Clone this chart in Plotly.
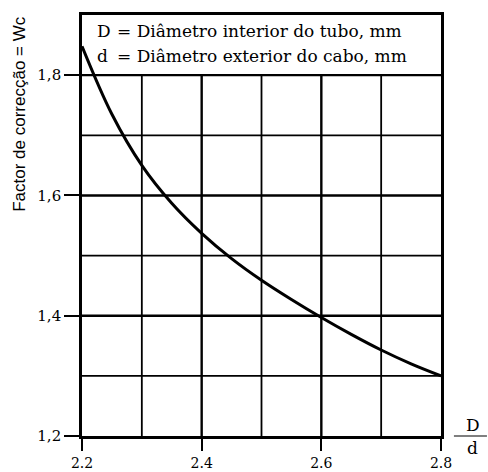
import plotly.graph_objects as go

# Data
ratio_Dd = [2.20, 2.25, 2.30, 2.35, 2.40, 2.45, 2.50, 2.55, 2.60, 2.65, 2.70, 2.75, 2.80]
factor_wc = [1.848, 1.735, 1.650, 1.587, 1.537, 1.495, 1.459, 1.427, 1.397, 1.369, 1.343, 1.320, 1.300]

x_major = [2.2, 2.4, 2.6, 2.8]
x_minor = [2.3, 2.5, 2.7]
y_major = [1.2, 1.4, 1.6, 1.8]
y_minor = [1.3, 1.5, 1.7]
y_ticktext = ["1,2", "1,4", "1,6", "1,8"]
x_ticktext = ["2.2", "2.4", "2.6", "2.8"]
legend_lines = ["= Diâmetro interior do tubo, mm", "= Diâmetro exterior do cabo, mm"]
legend_syms = ["D", "d"]

X_RANGE = [2.2, 2.8]
Y_RANGE = [1.2, 1.9]
GRID_TOP = 1.8

fig = go.Figure()
fig.add_trace(go.Scatter(x=ratio_Dd, y=factor_wc, mode="lines",
                         line=dict(color="black", width=3, shape="spline", smoothing=1.0),
                         hoverinfo="skip", showlegend=False))

shapes = []
for v in x_major[1:-1] + x_minor:
    w = 2.4 if v in x_major else 1.8
    shapes.append(dict(type="line", xref="x", yref="y", x0=v, x1=v, y0=Y_RANGE[0], y1=GRID_TOP,
                       line=dict(color="black", width=w), layer="below"))
for v in y_major[1:] + y_minor:
    w = 2.4 if v in y_major else 1.8
    shapes.append(dict(type="line", xref="x", yref="y", x0=X_RANGE[0], x1=X_RANGE[1], y0=v, y1=v,
                       line=dict(color="black", width=w), layer="below"))
# fraction bar for D/d
shapes.append(dict(type="line", xref="paper", yref="paper", x0=1.036, x1=1.128, y0=0, y1=0,
                   line=dict(color="black", width=1.2)))

serif = "DejaVu Serif"
annotations = []
for i, (sym, txt) in enumerate(zip(legend_syms, legend_lines)):
    yy = 0.962 - i * 0.0595
    annotations.append(dict(text=sym, xref="paper", yref="paper", x=0.036, y=yy,
                            xanchor="left", yanchor="middle", showarrow=False,
                            font=dict(family=serif, size=17, color="black")))
    annotations.append(dict(text=txt, xref="paper", yref="paper", x=0.092, y=yy,
                            xanchor="left", yanchor="middle", showarrow=False,
                            font=dict(family=serif, size=17, color="black")))
annotations.append(dict(text="Factor de correcção = Wc", xref="paper", yref="paper",
                        x=-0.173, y=0.765, textangle=-90, showarrow=False,
                        xanchor="center", yanchor="middle",
                        font=dict(family="Liberation Sans", size=17, color="#000000")))
annotations.append(dict(text="D", xref="paper", yref="paper", x=1.089, y=0.026,
                        xanchor="center", yanchor="middle", showarrow=False,
                        font=dict(family=serif, size=17, color="black")))
annotations.append(dict(text="d", xref="paper", yref="paper", x=1.089, y=-0.029,
                        xanchor="center", yanchor="middle", showarrow=False,
                        font=dict(family=serif, size=17, color="black")))

fig.update_layout(
    width=488, height=472,
    margin=dict(l=82, r=47, t=15, b=36, pad=0),
    paper_bgcolor="white", plot_bgcolor="white",
    shapes=shapes, annotations=annotations,
    xaxis=dict(range=X_RANGE, tickvals=x_major, ticktext=x_ticktext, automargin=False,
               ticks="outside", ticklen=12, tickwidth=2.4, tickcolor="black",
               showline=True, linewidth=2.6, linecolor="black", mirror=True,
               showgrid=False, zeroline=False,
               tickfont=dict(family=serif, size=14, color="black")),
    yaxis=dict(range=Y_RANGE, tickvals=y_major, ticktext=y_ticktext, automargin=False,
               ticks="outside", ticklen=15, tickwidth=2.4, tickcolor="black",
               showline=True, linewidth=2.6, linecolor="black", mirror=True,
               showgrid=False, zeroline=False,
               tickfont=dict(family=serif, size=15, color="black")),
)

fig.write_html("out.html")
